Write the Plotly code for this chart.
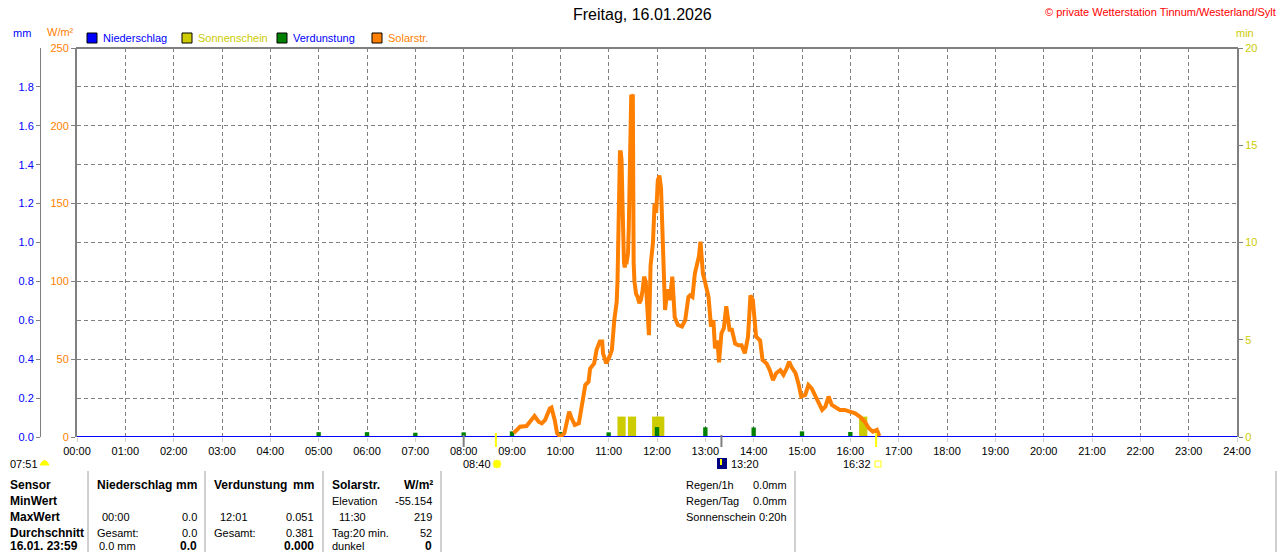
import plotly.graph_objects as go

# ---------------- data ----------------
hour_ticks = list(range(25))
hour_labels = ["00:00", "01:00", "02:00", "03:00", "04:00", "05:00", "06:00", "07:00",
               "08:00", "09:00", "10:00", "11:00", "12:00", "13:00", "14:00", "15:00",
               "16:00", "17:00", "18:00", "19:00", "20:00", "21:00", "22:00", "23:00", "24:00"]

mm_ticks = [0.0, 0.2, 0.4, 0.6, 0.8, 1.0, 1.2, 1.4, 1.6, 1.8]
mm_labels = ["0.0", "0.2", "0.4", "0.6", "0.8", "1.0", "1.2", "1.4", "1.6", "1.8"]
wm_ticks = [0, 50, 100, 150, 200, 250]
min_ticks = [0, 5, 10, 15, 20]

solar_time = ["09:02", "09:06", "09:10", "09:18", "09:22", "09:28", "09:33", "09:37", "09:41",
              "09:47", "09:49", "09:53", "09:56", "10:00", "10:05", "10:08", "10:11", "10:14",
              "10:18", "10:23", "10:26", "10:31", "10:35", "10:37", "10:42", "10:45", "10:49",
              "10:52", "10:53", "10:57", "11:01", "11:04", "11:07", "11:10", "11:11", "11:12",
              "11:13", "11:14", "11:15", "11:16", "11:17", "11:18", "11:19", "11:20", "11:21",
              "11:22", "11:23", "11:24", "11:25", "11:26", "11:27", "11:28", "11:29", "11:30",
              "11:31", "11:32", "11:34", "11:36", "11:38", "11:40", "11:42", "11:44", "11:46",
              "11:48", "11:50", "11:52", "11:53", "11:55", "11:57", "11:59", "12:01", "12:03",
              "12:05", "12:06", "12:07", "12:08", "12:10", "12:13", "12:16", "12:19", "12:22",
              "12:26", "12:31", "12:35", "12:39", "12:41", "12:44", "12:47", "12:52", "12:54",
              "12:57", "12:59", "13:04", "13:07", "13:10", "13:12", "13:15", "13:17", "13:20",
              "13:23", "13:26", "13:30", "13:33", "13:37", "13:41", "13:45", "13:49", "13:53",
              "13:56", "13:59", "14:01", "14:03", "14:08", "14:11", "14:16", "14:20", "14:24",
              "14:28", "14:33", "14:37", "14:41", "14:44", "14:47", "14:52", "14:56", "14:59",
              "15:04", "15:08", "15:12", "15:16", "15:20", "15:25", "15:29", "15:33", "15:37",
              "15:41", "15:47", "15:53", "16:00", "16:06", "16:12", "16:18", "16:23", "16:28",
              "16:33", "16:36"]
solar_value = [2.5, 5, 6.6, 7, 9.8, 13.5, 9.8, 8.8, 10.9,
               18.4, 19, 11, 2.4, 0.2, 2.4, 8.8, 16.3, 12,
               7.7, 8.8, 19.5, 33.4, 35.5, 44, 47.3, 56, 61.3,
               61.3, 53.8, 47.3, 51.6, 56, 75.2, 87, 101, 134,
               172, 183, 183, 178, 154, 120, 112, 109, 113,
               111, 116, 118, 135, 173, 206, 220, 219, 219,
               112, 100, 92, 90, 86, 88, 94, 103, 100,
               80, 65.5, 110, 116, 125, 150, 144, 165, 168,
               160, 144, 130, 94.5, 81.6, 95, 88, 103, 77,
               72, 71, 75, 90, 91, 90, 105, 116, 125.5,
               105, 101, 90, 71, 75, 57, 62, 48, 66.6,
               70, 84, 69, 69, 60, 59, 59, 53.8, 64.5,
               91, 88, 77, 64.5, 62, 49.5, 47.3, 43, 36.6,
               41, 43, 40, 44, 48.4, 45, 41, 33.4, 26,
               27, 33.4, 31.3, 27, 22.7, 17.4, 19.5, 26, 20.6,
               19.5, 17.4, 17.4, 16.3, 15.2, 13, 9.8, 5.6, 3.4,
               4.5, 0.6]

sun_time = ["11:16", "11:29", "11:59", "12:04", "16:16"]
sun_minutes = [1.05, 1.05, 1.05, 1.05, 1.05]

evap_time = ["05:00", "06:00", "07:00", "08:00", "09:00", "10:00", "11:00", "12:00",
             "13:00", "14:00", "15:00", "16:00"]
evap_mm = [0.025, 0.025, 0.022, 0.024, 0.029, 0.026, 0.024, 0.051, 0.050, 0.049, 0.029, 0.026]

rain_time = ["00:00", "24:00"]
rain_mm = [0.0, 0.0]

event_gray = ["08:00", "13:20"]
event_yellow = ["08:40", "16:32"]

# ---------------- helpers ----------------
def hm(s):
    h, m = s.split(":")
    return int(h) + int(m) / 60.0

PL, L, R, T, B = 40, 77, 1237, 48, 437   # PL = paper left (mm axis), L = plot left
PW, H = R - PL, B - T

def px(x):
    return (x - PL) / PW

def py(y):
    return (B - y) / H

BLUE = "#0000FF"
ORANGE = "#FF8000"
YELLOW = "#CCCC00"
GREEN = "#008000"
GRAY = "#808080"
FONT = "Liberation Sans"

fig = go.Figure()

# sunshine bars (base axis: min)
fig.add_trace(go.Bar(x=[hm(t) for t in sun_time], y=sun_minutes, width=0.17,
                     marker=dict(color=YELLOW, line=dict(width=0)), yaxis="y", hoverinfo="skip"))
# evaporation (mm)
fig.add_trace(go.Bar(x=[hm(t) for t in evap_time], y=evap_mm, width=0.09,
                     marker=dict(color=GREEN, line=dict(width=0)), yaxis="y2", hoverinfo="skip"))
# precipitation (mm)
fig.add_trace(go.Scatter(x=[hm(t) for t in rain_time], y=rain_mm, mode="lines",
                         line=dict(color=BLUE, width=2), yaxis="y2", hoverinfo="skip"))
# solar radiation
fig.add_trace(go.Scatter(x=[hm(t) for t in solar_time], y=solar_value, mode="lines",
                         line=dict(color=ORANGE, width=4), yaxis="y3", hoverinfo="skip"))

fig.update_layout(
    width=1280, height=552,
    margin=dict(l=PL, r=1280 - R, t=T, b=552 - B, pad=0),
    paper_bgcolor="white", plot_bgcolor="white",
    showlegend=False, barmode="overlay",
    font=dict(family=FONT, size=11, color="black"),
    xaxis=dict(range=[0, 24], domain=[px(L), 1], tickvals=hour_ticks, ticktext=hour_labels,
               showgrid=True, gridcolor=GRAY, griddash="4px,3px", gridwidth=1,
               ticks="outside", ticklen=4, tickcolor="#D0D0D0", tickwidth=1,
               tickfont=dict(size=11, color="black", family=FONT),
               showline=False, zeroline=False, fixedrange=True),
    yaxis=dict(range=[0, 20], tickvals=min_ticks, side="right",
               showgrid=False, zeroline=False,
               showline=True, linecolor=GRAY, linewidth=2,
               ticks="outside", ticklen=4, tickcolor=GRAY,
               tickfont=dict(size=11, color=YELLOW, family=FONT)),
    yaxis2=dict(range=[0, 2.0], tickvals=mm_ticks, ticktext=mm_labels,
                overlaying="y", anchor="free", side="left", position=0,
                showgrid=True, gridcolor=GRAY, griddash="4px,3px", gridwidth=1,
                zeroline=False, showline=True, linecolor=GRAY, linewidth=1,
                ticks="outside", ticklen=4, tickcolor=GRAY,
                tickfont=dict(size=11, color=BLUE, family=FONT)),
    yaxis3=dict(range=[0, 250], tickvals=wm_ticks, overlaying="y", side="left", anchor="x",
                showgrid=False, zeroline=False,
                showline=True, linecolor=GRAY, linewidth=2,
                ticks="outside", ticklen=4, tickcolor=GRAY,
                tickfont=dict(size=11, color=ORANGE, family=FONT)),
)

shapes = []
# top frame
shapes.append(dict(type="line", xref="paper", yref="paper", x0=px(76), x1=px(1238), y0=1, y1=1,
                   line=dict(color=GRAY, width=2)))
# legend squares
legend_items = [(87, BLUE, "Niederschlag", 101, BLUE),
                (182, YELLOW, "Sonnenschein", 196, YELLOW),
                (277, GREEN, "Verdunstung", 291, BLUE),
                (372, ORANGE, "Solarstr.", 386, ORANGE)]
annotations = []
for sx, col, txt_, tx, tcol in legend_items:
    shapes.append(dict(type="rect", xref="paper", yref="paper",
                       x0=px(sx), x1=px(sx + 10), y0=py(33), y1=py(43),
                       fillcolor=col, line=dict(color="black", width=1)))
    annotations.append(dict(x=px(tx), y=py(38), xref="paper", yref="paper", text=txt_,
                            showarrow=False, xanchor="left", yanchor="middle",
                            font=dict(size=11, color=tcol, family=FONT)))

# event markers below axis
for t in event_gray:
    shapes.append(dict(type="line", xref="x", yref="paper", x0=hm(t), x1=hm(t),
                       y0=py(435), y1=py(447), line=dict(color=GRAY, width=2)))
for t in event_yellow:
    shapes.append(dict(type="line", xref="x", yref="paper", x0=hm(t), x1=hm(t),
                       y0=py(433), y1=py(447), line=dict(color="#FFFF00", width=2)))

# event icons
shapes.append(dict(type="path", xref="paper", yref="paper",
                   path=f"M {px(40)} {py(465)} Q {px(44.5)} {py(456)} {px(49)} {py(465)} Z",
                   fillcolor="#FFFF00", line=dict(color="#FFFF00", width=1)))
shapes.append(dict(type="circle", xref="paper", yref="paper", x0=px(493), x1=px(501),
                   y0=py(460), y1=py(468), fillcolor="#FFFF00", line=dict(color="#FFFF40", width=1)))
shapes.append(dict(type="rect", xref="paper", yref="paper", x0=px(717), x1=px(727),
                   y0=py(458), y1=py(469), fillcolor="#000080", line=dict(width=0)))
shapes.append(dict(type="line", xref="paper", yref="paper", x0=px(721), x1=px(721),
                   y0=py(459), y1=py(465), line=dict(color="#FFFF00", width=2)))
shapes.append(dict(type="rect", xref="paper", yref="paper", x0=px(875), x1=px(881),
                   y0=py(461), y1=py(467), fillcolor="white", line=dict(color="#FFFF00", width=1)))

# table separators
for sx in [88, 205, 323, 441, 795, 1276]:
    shapes.append(dict(type="line", xref="paper", yref="paper", x0=px(sx), x1=px(sx),
                       y0=py(471), y1=py(560), line=dict(color="#A0A0A0", width=1)))


def txt(x, y, s, anchor="left", color="black", size=11, bold=False):
    if bold:
        s = "<b>" + s + "</b>"
    annotations.append(dict(x=px(x), y=py(y), xref="paper", yref="paper", text=s,
                            showarrow=False, xanchor=anchor, yanchor="middle",
                            font=dict(size=size, color=color, family=FONT)))

# title and header
txt(642, 15, "Freitag, 16.01.2026", anchor="center", size=16)
txt(1278, 12, "© private Wetterstation Tinnum/Westerland/Sylt", anchor="right", color="#FF0000", size=11)
txt(22, 33, "mm", anchor="center", color=BLUE)
txt(60, 32, "W/m²", anchor="center", color=ORANGE)
txt(1245, 33, "min", anchor="center", color=YELLOW)

# event labels
txt(8, 464, "07:51")
txt(477, 464, "08:40", anchor="center")
txt(729, 464, "13:20")
txt(857, 464, "16:32", anchor="center")

# table
rows = [485, 501, 517, 533, 546]
for y, s in zip(rows, ["Sensor", "MinWert", "MaxWert", "Durchschnitt", "16.01. 23:59"]):
    txt(8, y, s, bold=True, size=12)

txt(95, rows[0], "Niederschlag", bold=True, size=12)
txt(199, rows[0], "mm", anchor="right", bold=True, size=12)
txt(100, rows[2], "00:00")
txt(199, rows[2], "0.0", anchor="right")
txt(95, rows[3], "Gesamt:")
txt(199, rows[3], "0.0", anchor="right")
txt(97, rows[4], "0.0 mm")
txt(199, rows[4], "0.0", anchor="right", bold=True, size=12)

txt(212, rows[0], "Verdunstung", bold=True, size=12)
txt(316, rows[0], "mm", anchor="right", bold=True, size=12)
txt(218, rows[2], "12:01")
txt(316, rows[2], "0.051", anchor="right")
txt(212, rows[3], "Gesamt:")
txt(316, rows[3], "0.381", anchor="right")
txt(316, rows[4], "0.000", anchor="right", bold=True, size=12)

txt(330, rows[0], "Solarstr.", bold=True, size=12)
txt(435, rows[0], "W/m²", anchor="right", bold=True, size=12)
txt(330, rows[1], "Elevation")
txt(434, rows[1], "-55.154", anchor="right")
txt(337, rows[2], "11:30")
txt(434, rows[2], "219", anchor="right")
txt(330, rows[3], "Tag:20 min.")
txt(434, rows[3], "52", anchor="right")
txt(330, rows[4], "dunkel")
txt(434, rows[4], "0", anchor="right", bold=True, size=12)

txt(684, rows[0], "Regen/1h")
txt(789, rows[0], "0.0mm", anchor="right")
txt(684, rows[1], "Regen/Tag")
txt(789, rows[1], "0.0mm", anchor="right")
txt(684, rows[2], "Sonnenschein")
txt(789, rows[2], "0:20h", anchor="right")

fig.update_layout(shapes=shapes, annotations=annotations)

fig.write_html("out.html", config={"displayModeBar": False},
               post_script="document.body.style.margin='0';document.body.style.overflow='hidden';")
